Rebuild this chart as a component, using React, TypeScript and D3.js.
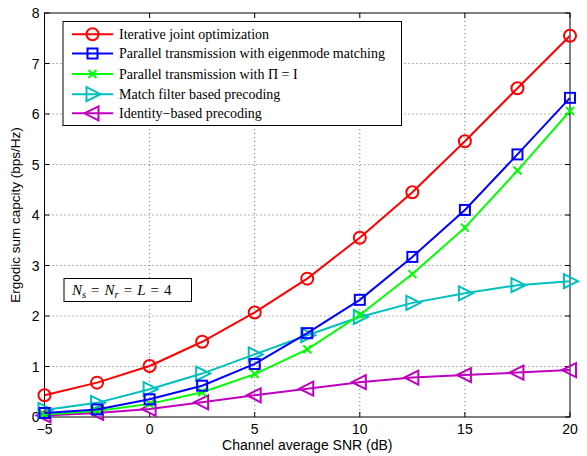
import React, { useEffect, useRef } from 'react';
import * as d3 from 'd3';

const snr = [-5, -2.5, 0, 2.5, 5, 7.5, 10, 12.5, 15, 17.5, 20];
const iterative = [0.43, 0.68, 1.01, 1.49, 2.07, 2.74, 3.55, 4.45, 5.46, 6.51, 7.55];
const eigenmode = [0.08, 0.15, 0.35, 0.62, 1.05, 1.66, 2.32, 3.17, 4.10, 5.20, 6.32];
const piIdentity = [0.05, 0.12, 0.26, 0.49, 0.85, 1.34, 2.02, 2.83, 3.75, 4.88, 6.06];
const matchFilter = [0.14, 0.28, 0.55, 0.86, 1.24, 1.62, 1.98, 2.26, 2.45, 2.61, 2.69];
const identityBased = [0.03, 0.08, 0.16, 0.29, 0.43, 0.56, 0.69, 0.78, 0.83, 0.88, 0.93];

const seriesNames = [
  'Iterative joint optimization',
  'Parallel transmission with eigenmode matching',
  'Parallel transmission with \u03A0 = I',
  'Match filter based precoding',
  'Identity\u2212based precoding',
];
const xTicks = [-5, 0, 5, 10, 15, 20];
const yTicks = [0, 1, 2, 3, 4, 5, 6, 7, 8];

const W = 587;
const H = 456;

const App = () => {
  const ref = useRef<SVGSVGElement>(null);

  useEffect(() => {
    const svg = d3.select(ref.current);
    svg.selectAll('*').remove();

    const left = 44.5, right = 570, top = 13, bottom = 417;
    const x = d3.scaleLinear().domain([-5, 20]).range([left, right]);
    const y = d3.scaleLinear().domain([0, 8]).range([bottom, top]);

    svg.append('rect').attr('width', W).attr('height', H).attr('fill', '#fff');

    // grid
    const grid = svg.append('g').attr('stroke', '#444').attr('stroke-width', 0.8)
      .attr('stroke-dasharray', '1,3');
    xTicks.slice(1, -1).forEach(t => {
      grid.append('line').attr('x1', x(t)).attr('x2', x(t)).attr('y1', top).attr('y2', bottom);
    });
    yTicks.slice(1, -1).forEach(t => {
      grid.append('line').attr('x1', left).attr('x2', right).attr('y1', y(t)).attr('y2', y(t));
    });

    // frame + inward ticks
    svg.append('rect').attr('x', left).attr('y', top).attr('width', right - left)
      .attr('height', bottom - top).attr('fill', 'none').attr('stroke', '#000').attr('stroke-width', 1);
    const ticks = svg.append('g').attr('stroke', '#000').attr('stroke-width', 1);
    xTicks.forEach(t => {
      ticks.append('line').attr('x1', x(t)).attr('x2', x(t)).attr('y1', bottom).attr('y2', bottom - 5);
      ticks.append('line').attr('x1', x(t)).attr('x2', x(t)).attr('y1', top).attr('y2', top + 5);
    });
    yTicks.forEach(t => {
      ticks.append('line').attr('x1', left).attr('x2', left + 5).attr('y1', y(t)).attr('y2', y(t));
      ticks.append('line').attr('x1', right).attr('x2', right - 5).attr('y1', y(t)).attr('y2', y(t));
    });

    const sans = 'Liberation Sans, Arial, sans-serif';
    svg.append('g').selectAll('text').data(xTicks).join('text')
      .attr('x', d => x(d)).attr('y', 434).attr('text-anchor', 'middle')
      .attr('font-family', sans).attr('font-size', 14).text(d => (d < 0 ? '\u2212' + Math.abs(d) : String(d)));
    svg.append('g').selectAll('text').data(yTicks).join('text')
      .attr('x', 39.5).attr('y', d => y(d) + 5).attr('text-anchor', 'end')
      .attr('font-family', sans).attr('font-size', 14).text(d => String(d));

    svg.append('text').attr('x', (left + right) / 2).attr('y', 450).attr('text-anchor', 'middle')
      .attr('font-family', sans).attr('font-size', 14).text('Channel average SNR (dB)');
    svg.append('text').attr('transform', `translate(20,${(top + bottom) / 2}) rotate(-90)`)
      .attr('text-anchor', 'middle').attr('font-family', sans).attr('font-size', 13.5)
      .text('Ergodic sum capcity (bps/Hz)');

    const series = [
      { vals: iterative, color: '#ff0000', marker: 'circle' },
      { vals: eigenmode, color: '#0000ff', marker: 'square' },
      { vals: piIdentity, color: '#00ff00', marker: 'x' },
      { vals: matchFilter, color: '#00bfbf', marker: 'triRight' },
      { vals: identityBased, color: '#bf00bf', marker: 'triLeft' },
    ];

    const drawMarker = (g: any, kind: string, cx: number, cy: number, color: string) => {
      if (kind === 'circle') {
        g.append('circle').attr('cx', cx).attr('cy', cy).attr('r', 6)
          .attr('fill', 'none').attr('stroke', color).attr('stroke-width', 2);
      } else if (kind === 'square') {
        g.append('rect').attr('x', cx - 5).attr('y', cy - 5).attr('width', 10).attr('height', 10)
          .attr('fill', 'none').attr('stroke', color).attr('stroke-width', 2);
      } else if (kind === 'x') {
        g.append('path').attr('d', `M${cx - 4},${cy - 4}L${cx + 4},${cy + 4}M${cx - 4},${cy + 4}L${cx + 4},${cy - 4}`)
          .attr('stroke', color).attr('stroke-width', 2);
      } else if (kind === 'triRight') {
        g.append('path').attr('d', `M${cx - 6},${cy - 7}L${cx + 8},${cy}L${cx - 6},${cy + 7}Z`)
          .attr('fill', 'none').attr('stroke', color).attr('stroke-width', 2);
      } else {
        g.append('path').attr('d', `M${cx + 6},${cy - 7}L${cx - 8},${cy}L${cx + 6},${cy + 7}Z`)
          .attr('fill', 'none').attr('stroke', color).attr('stroke-width', 2);
      }
    };

    const line = d3.line<number>().x((_, i) => x(snr[i])).y(d => y(d));
    const plot = svg.append('g');
    // draw from back to front so red ends up on top
    [...series].reverse().forEach(s => {
      plot.append('path').datum(s.vals).attr('d', line).attr('fill', 'none')
        .attr('stroke', s.color).attr('stroke-width', 2);
      s.vals.forEach((v, i) => drawMarker(plot, s.marker, x(snr[i]), y(v), s.color));
    });

    // legend
    const serif = 'Liberation Serif, Times New Roman, serif';
    const lg = svg.append('g');
    lg.append('rect').attr('x', 63).attr('y', 21.5).attr('width', 338.5).attr('height', 104)
      .attr('fill', '#fff').attr('stroke', '#000').attr('stroke-width', 1);
    const rowY = [34.3, 53.5, 74, 94.2, 113.3];
    series.forEach((s, i) => {
      lg.append('line').attr('x1', 72).attr('x2', 113).attr('y1', rowY[i]).attr('y2', rowY[i])
        .attr('stroke', s.color).attr('stroke-width', 2);
      drawMarker(lg, s.marker, 92.5, rowY[i], s.color);
      lg.append('text').attr('x', 119).attr('y', rowY[i] + 4.5).attr('font-family', serif)
        .attr('font-size', 14).text(seriesNames[i]);
    });

    // annotation
    const ann = svg.append('g');
    ann.append('rect').attr('x', 64).attr('y', 278.5).attr('width', 127.5).attr('height', 23)
      .attr('fill', '#fff').attr('stroke', '#000').attr('stroke-width', 1);
    const t = ann.append('text').attr('x', 72).attr('y', 295).attr('font-family', serif).attr('font-size', 15);
    t.append('tspan').attr('font-style', 'italic').text('N');
    t.append('tspan').attr('font-style', 'italic').attr('font-size', 10.5).attr('dy', 3).text('s');
    t.append('tspan').attr('dy', -3).attr('dx', 5).text('=');
    t.append('tspan').attr('font-style', 'italic').attr('dx', 5).text('N');
    t.append('tspan').attr('font-style', 'italic').attr('font-size', 10.5).attr('dy', 3).text('r');
    t.append('tspan').attr('dy', -3).attr('dx', 5).text('=');
    t.append('tspan').attr('font-style', 'italic').attr('dx', 5).text('L');
    t.append('tspan').attr('dx', 5).text('=');
    t.append('tspan').attr('dx', 5).text('4');
  }, []);

  return (
    <svg ref={ref} width={W} height={H} style={{ position: 'absolute', left: 0, top: 0 }} />
  );
};

export default App;
